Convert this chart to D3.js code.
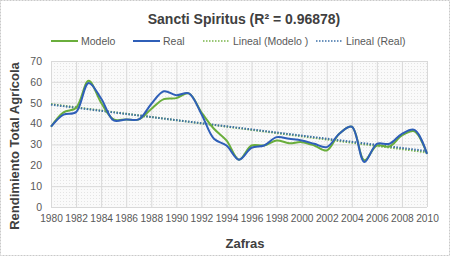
<!DOCTYPE html>
<html>
<head>
<meta charset="utf-8">
<script src="https://cdn.jsdelivr.net/npm/d3@7"></script>
<style>
    body { margin: 0; background: #fff; }
    text { font-family: "Liberation Sans", Arial, sans-serif; }
</style>
</head>
<body>
<div id="chart"></div>
<script>
// Data
const years = d3.range(1980, 2011);
const realValues = [38.5, 44.3, 45.5, 59.5, 52, 41.5, 42, 42, 49.4, 55.5, 53.6, 54.5, 44.6, 32.7, 29.5, 22.7,
    28.4, 29.5, 33.5, 32.7, 31.9, 30.3, 28.7, 35.1, 38.5, 21.6, 30.3, 30.3, 35.1, 37, 25.5];
const modeloValues = [38.5, 45.4, 47.5, 60.5, 50, 42, 42, 42, 47, 51.7, 52.2, 54.5, 45.4, 37.5, 31.9, 22.7,
    29.5, 29.5, 31.9, 30.6, 31.1, 29.5, 27.1, 35.1, 38.5, 22.4, 29.5, 29, 34.3, 36.3, 25.5];
const yTicks = [0, 10, 20, 30, 40, 50, 60, 70];
const xTicks = d3.range(1980, 2011, 2);
const titleText = "Sancti Spiritus (R\u00B2 = 0.96878)";

// Function to compute a least squares trend line (like Excel's "Lineal")
function linearTrend(xs, ys) {
    const mx = d3.mean(xs), my = d3.mean(ys);
    const slope = d3.sum(xs, (x, i) => (x - mx) * (ys[i] - my)) / d3.sum(xs, x => (x - mx) * (x - mx));
    const intercept = my - slope * mx;
    return [xs[0], xs[xs.length - 1]].map(x => ({ year: x, value: intercept + slope * x }));
}

function drawChart() {
    const width = 450;
    const height = 256;
    const plot = { left: 51, right: 427, top: 61, bottom: 207 };

    const green = "#6aae3c";
    const blue = "#2f5fb8";
    const trendGreen = "#79b54a";
    const trendBlue = "#3d70a8";

    const svg = d3.select("#chart").append("svg")
        .attr("width", width)
        .attr("height", height);

    // Textured plot background
    const defs = svg.append("defs");
    const pattern = defs.append("pattern")
        .attr("id", "dots")
        .attr("width", 3)
        .attr("height", 3)
        .attr("patternUnits", "userSpaceOnUse");
    pattern.append("rect").attr("width", 3).attr("height", 3).attr("fill", "#fafafa");
    pattern.append("rect").attr("width", 1).attr("height", 1).attr("fill", "#e4e4e4");

    // Chart border
    svg.append("rect")
        .attr("x", 0.5).attr("y", 0.5)
        .attr("width", width - 1).attr("height", height - 1)
        .attr("fill", "#fff")
        .attr("stroke", "#c9c9c9")
        .attr("stroke-dasharray", "2,1");

    const xScale = d3.scaleLinear()
        .domain([1980, 2010])
        .range([plot.left, plot.right]);

    const yScale = d3.scaleLinear()
        .domain([0, 70])
        .range([plot.bottom, plot.top]);

    svg.append("rect")
        .attr("x", plot.left).attr("y", plot.top)
        .attr("width", plot.right - plot.left).attr("height", plot.bottom - plot.top)
        .attr("fill", "url(#dots)");

    // Gridlines
    svg.append("g")
        .attr("transform", `translate(${plot.left}, 0)`)
        .call(d3.axisLeft(yScale).tickValues(yTicks).tickSize(-(plot.right - plot.left)).tickFormat(""))
        .call(g => g.select(".domain").remove())
        .call(g => g.selectAll("line").attr("stroke", "#d9d9d9"));

    svg.append("g")
        .attr("transform", `translate(0, ${plot.bottom})`)
        .call(d3.axisBottom(xScale).tickValues(xTicks).tickSize(-(plot.bottom - plot.top)).tickFormat(""))
        .call(g => g.select(".domain").remove())
        .call(g => g.selectAll("line").attr("stroke", "#d9d9d9"));

    // Tick labels
    svg.append("g")
        .attr("transform", `translate(${plot.left - 9}, 0)`)
        .call(d3.axisLeft(yScale).tickValues(yTicks).tickSize(0).tickPadding(0))
        .call(g => g.select(".domain").remove())
        .call(g => g.selectAll("text")
            .attr("fill", "#595959")
            .style("font-size", "10.5px"));

    svg.append("g")
        .attr("transform", `translate(0, ${plot.bottom + 5})`)
        .call(d3.axisBottom(xScale).tickValues(xTicks).tickSize(0).tickPadding(3).tickFormat(d3.format("d")))
        .call(g => g.select(".domain").remove())
        .call(g => g.selectAll("text")
            .attr("fill", "#595959")
            .style("font-size", "10.2px"));

    // Trend lines
    const trendLine = d3.line()
        .x(d => xScale(d.year))
        .y(d => yScale(d.value));

    svg.append("path")
        .datum(linearTrend(years, modeloValues))
        .attr("fill", "none")
        .attr("stroke", trendGreen)
        .attr("stroke-width", 2)
        .attr("stroke-dasharray", "1.5,1.5")
        .attr("d", trendLine);

    svg.append("path")
        .datum(linearTrend(years, realValues))
        .attr("fill", "none")
        .attr("stroke", trendBlue)
        .attr("stroke-width", 2)
        .attr("stroke-dasharray", "1.5,1.5")
        .attr("d", trendLine);

    // Smoothed series lines
    const smoothLine = d3.line()
        .x(d => xScale(d.year))
        .y(d => yScale(d.value))
        .curve(d3.curveCatmullRom.alpha(0.5));

    svg.append("path")
        .datum(years.map((year, i) => ({ year, value: modeloValues[i] })))
        .attr("fill", "none")
        .attr("stroke", green)
        .attr("stroke-width", 2)
        .attr("d", smoothLine);

    svg.append("path")
        .datum(years.map((year, i) => ({ year, value: realValues[i] })))
        .attr("fill", "none")
        .attr("stroke", blue)
        .attr("stroke-width", 2)
        .attr("d", smoothLine);

    // Title
    svg.append("text")
        .attr("x", 244)
        .attr("y", 24)
        .attr("text-anchor", "middle")
        .attr("fill", "#404040")
        .style("font-size", "14px")
        .style("font-weight", "bold")
        .text(titleText);

    // Legend
    const legendItems = [
        { label: "Modelo", color: green, x: 51, dashed: false },
        { label: "Real", color: blue, x: 133, dashed: false },
        { label: "Lineal (Modelo )", color: trendGreen, x: 203, dashed: true },
        { label: "Lineal (Real)", color: trendBlue, x: 316, dashed: true }
    ];

    const legend = svg.selectAll(".legend")
        .data(legendItems)
        .enter()
        .append("g")
        .attr("class", "legend")
        .attr("transform", d => `translate(${d.x}, 41)`);

    legend.append("line")
        .attr("x1", 0).attr("x2", 27)
        .attr("stroke", d => d.color)
        .attr("stroke-width", d => d.dashed ? 1.5 : 2)
        .attr("stroke-dasharray", d => d.dashed ? "1.5,1.5" : null);

    legend.append("text")
        .attr("x", 30)
        .attr("y", 4)
        .attr("fill", "#595959")
        .style("font-size", "10.5px")
        .text(d => d.label);

    // Axis titles
    svg.append("text")
        .attr("x", 245)
        .attr("y", 248)
        .attr("text-anchor", "middle")
        .attr("fill", "#404040")
        .style("font-size", "13px")
        .style("font-weight", "bold")
        .text("Zafras");

    svg.append("text")
        .attr("transform", "translate(19, 146) rotate(-90)")
        .attr("text-anchor", "middle")
        .attr("fill", "#404040")
        .style("font-size", "13px")
        .style("font-weight", "bold")
        .text("Rendimiento Total Agrícola");
}

drawChart();
</script>
</body>
</html>
